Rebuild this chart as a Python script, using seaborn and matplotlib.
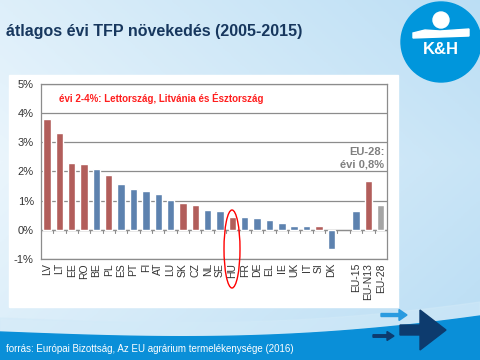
import numpy as np
import pandas as pd
import matplotlib
matplotlib.use('Agg')
import matplotlib.pyplot as plt
from matplotlib.patches import Ellipse, Circle, Polygon, FancyArrow
import seaborn as sns

# data
countries = ['LV', 'LT', 'EE', 'RO', 'BE', 'PL', 'ES', 'PT', 'FI', 'AT', 'LU', 'SK',
             'CZ', 'NL', 'SE', 'HU', 'FR', 'DE', 'EL', 'IE', 'UK', 'IT', 'SI', 'DK',
             'EU-15', 'EU-N13', 'EU-28']
tfp_growth = [3.80, 3.33, 2.27, 2.24, 2.07, 1.86, 1.57, 1.38, 1.31, 1.24, 1.02, 0.92,
              0.85, 0.66, 0.65, 0.45, 0.45, 0.39, 0.34, 0.22, 0.14, 0.14, 0.14, -0.66,
              0.64, 1.67, 0.85]
group = ['new', 'new', 'new', 'new', 'old', 'new', 'old', 'old', 'old', 'old', 'old', 'new',
         'new', 'old', 'old', 'new', 'old', 'old', 'old', 'old', 'old', 'old', 'new', 'old',
         'old', 'new', 'eu']
order = countries[:24] + [' '] + countries[24:]

palette = {'new': '#C0504D', 'old': '#4F81BD', 'eu': '#A5A5A5'}

df = pd.DataFrame({'country': countries, 'tfp': tfp_growth, 'group': group})

sns.set_style('white')
plt.rcParams['font.family'] = ['Liberation Sans', 'DejaVu Sans']

fig = plt.figure(figsize=(4.8, 3.6), dpi=100)

# slide background: light blue gradient + blue band at the bottom
bg = fig.add_axes([0, 0, 1, 1], zorder=-10)
bg.set_xlim(0, 480)
bg.set_ylim(360, 0)
bg.axis('off')
grad = np.linspace(0, 1, 256)
gx, gy = np.meshgrid(grad, grad)
shade = np.clip(0.55 * gx + 0.45 * np.abs(gy - 0.45), 0, 1)
cmap = matplotlib.colors.LinearSegmentedColormap.from_list('bgc', ['#EAF5FC', '#B9DDF4'])
bg.imshow(shade, cmap=cmap, extent=[0, 480, 360, 0], aspect='auto')
bx = np.linspace(0, 480, 60)
btop = 332 + 6 * np.sin(bx / 480 * np.pi) - 16 * (bx / 480) ** 3
bg.fill_between(bx, btop, 360, color='#0A8FD8', zorder=2)
bg.fill_between(bx, btop - 14, btop, color='#D2EAF8', alpha=0.5, zorder=1)

# logo
bg.add_patch(Circle((441, 42), 40, color='#0096DC', zorder=3))
bg.add_patch(Circle((441, 20), 8, color='white', zorder=4))
bg.add_patch(Polygon([[413, 33], [425, 30], [440, 31], [469, 29], [469, 36], [413, 38]],
                     color='white', zorder=4))
bg.text(441, 50, 'K&H', color='white', fontsize=12, fontweight='bold',
        ha='center', va='center', zorder=4)

# arrows bottom right
bg.add_patch(FancyArrow(381, 315, 18, 0, width=3, head_width=11, head_length=8,
                        color='#2A9BE0', zorder=4))
bg.add_patch(FancyArrow(373, 336, 14, 0, width=2.5, head_width=9, head_length=7,
                        color='#0D3B6E', zorder=4))
bg.add_patch(FancyArrow(400, 330, 20, 0, width=10, head_width=40, head_length=26,
                        color='#0D3B6E', zorder=4))

# white chart panel
bg.add_patch(plt.Rectangle((9, 75), 389, 232, color='white', zorder=3))

fig.text(0.012, 0.912, 'átlagos évi TFP növekedés (2005-2015)', fontsize=11.5,
         fontweight='bold', color='#17375E', ha='left', va='center')
fig.text(0.012, 0.017, 'forrás: Európai Bizottság, Az EU agrárium termelékenysége (2016)',
         fontsize=7, color='white', ha='left', va='bottom')

ax = fig.add_axes([0.085, 0.281, 0.721, 0.486])
sns.barplot(data=df, x='country', y='tfp', hue='group', order=order, palette=palette,
            dodge=False, width=0.6, legend=False, ax=ax, zorder=3)

ax.set_ylim(-1, 5)
ax.set_xlim(-0.5, len(order) - 0.5)
ax.set_yticks(range(-1, 6))
ax.set_yticklabels([f'{v}%' for v in range(-1, 6)], fontsize=8, color='#333333')
ax.yaxis.grid(True, color='#8C8C8C', linewidth=0.9)
ax.set_axisbelow(True)
ax.set_xlabel('')
ax.set_ylabel('')
ax.tick_params(axis='x', length=0, labelrotation=90, labelsize=7.5, colors='#333333', pad=3)
ax.tick_params(axis='y', length=3, color='#8C8C8C', pad=2)
for lbl in ax.get_xticklabels():
    lbl.set_va('top')
for s in ax.spines.values():
    s.set_color('#8C8C8C')
    s.set_linewidth(0.9)

# category axis at zero with small tick marks
ax.axhline(0, color='#8C8C8C', linewidth=0.9, zorder=2)
for i in range(len(order) + 1):
    ax.plot([i - 0.5, i - 0.5], [0, -0.1], color='#8C8C8C', linewidth=0.8, zorder=2)

ax.text(1.0, 4.5, 'évi 2-4%: Lettország, Litvánia és Észtország', color='#FF1E1E',
        fontsize=7, fontweight='bold', ha='left', va='center')
ax.text(27.3, 2.45, 'EU-28:\névi 0,8%', color='#7F7F7F', fontsize=8,
        fontweight='bold', ha='right', va='center', linespacing=1.3)

# red ellipse around HU, on a transparent overlay in pixel coordinates
top = fig.add_axes([0, 0, 1, 1], zorder=10)
top.set_xlim(0, 480)
top.set_ylim(360, 0)
top.axis('off')
top.patch.set_alpha(0)
top.add_patch(Ellipse((232, 249), 16, 78, fill=False, edgecolor='red', linewidth=1.0))

fig.savefig('out.png', dpi=100)
